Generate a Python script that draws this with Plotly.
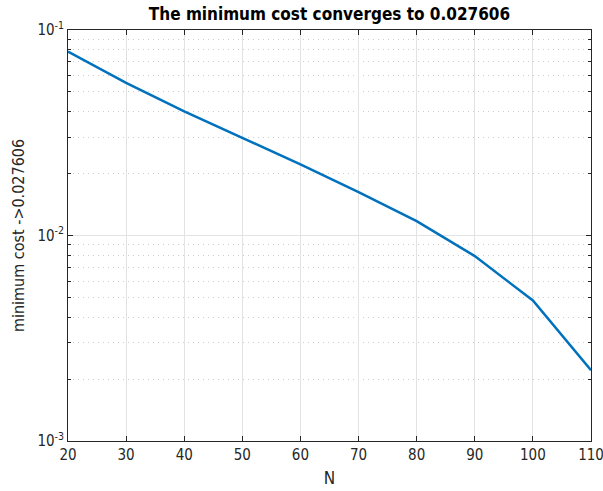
import plotly.graph_objects as go

# Minimum cost against problem size N
n_values = [20, 30, 40, 50, 60, 70, 80, 90, 100, 110]
min_cost = [0.0786, 0.0553, 0.0402, 0.0299, 0.0222, 0.01626, 0.01175, 0.00794, 0.00483, 0.00221]

x_ticks = [20, 30, 40, 50, 60, 70, 80, 90, 100, 110]
y_ticks = [1e-3, 1e-2, 1e-1]
y_tick_text = ["10<sup>-3</sup>", "10<sup>-2</sup>", "10<sup>-1</sup>"]
y_minor = [m * 10 ** e for e in (-3, -2) for m in range(2, 10)]

font_family = "DejaVu Sans Condensed, DejaVu Sans, sans-serif"
axis_color = "#262626"

fig = go.Figure()
fig.add_trace(go.Scatter(
    x=n_values, y=min_cost, mode="lines",
    line=dict(color="#0072BD", width=2.5),
    showlegend=False,
))

fig.update_layout(
    width=603, height=491,
    margin=dict(l=68, r=12, t=30, b=50),
    paper_bgcolor="white", plot_bgcolor="white",
    font=dict(family=font_family, size=15, color=axis_color),
    title=dict(
        text="<b>The minimum cost converges to 0.027606</b>",
        x=(68 + 591) / 2 / 603, xanchor="center",
        y=1 - 14 / 491, yanchor="middle",
        font=dict(size=17, color="black"),
    ),
)

fig.update_xaxes(
    range=[20, 110], tickvals=x_ticks, automargin=False,
    ticklabeloverflow="allow",
    ticks="inside", ticklen=5, tickcolor=axis_color,
    showline=True, linecolor=axis_color, linewidth=1, mirror="ticks",
    showgrid=True, gridcolor="#e3e3e3", gridwidth=1,
    zeroline=False,
    title=dict(text="N", font=dict(size=17), standoff=9),
)

fig.update_yaxes(
    type="log", range=[-3, -1], automargin=False,
    ticklabeloverflow="allow",
    tickvals=y_ticks, ticktext=y_tick_text,
    ticks="inside", ticklen=5, tickcolor=axis_color,
    showline=True, linecolor=axis_color, linewidth=1, mirror="ticks",
    showgrid=True, gridcolor="#e3e3e3", gridwidth=1,
    zeroline=False,
    minor=dict(
        tickvals=y_minor, ticks="inside", ticklen=3, tickcolor=axis_color,
        showgrid=True, gridcolor="#cccccc", griddash="1px,4px", gridwidth=1,
    ),
    title=dict(text="minimum cost ->0.027606", font=dict(size=16), standoff=8),
)

fig.write_html("out.html")
